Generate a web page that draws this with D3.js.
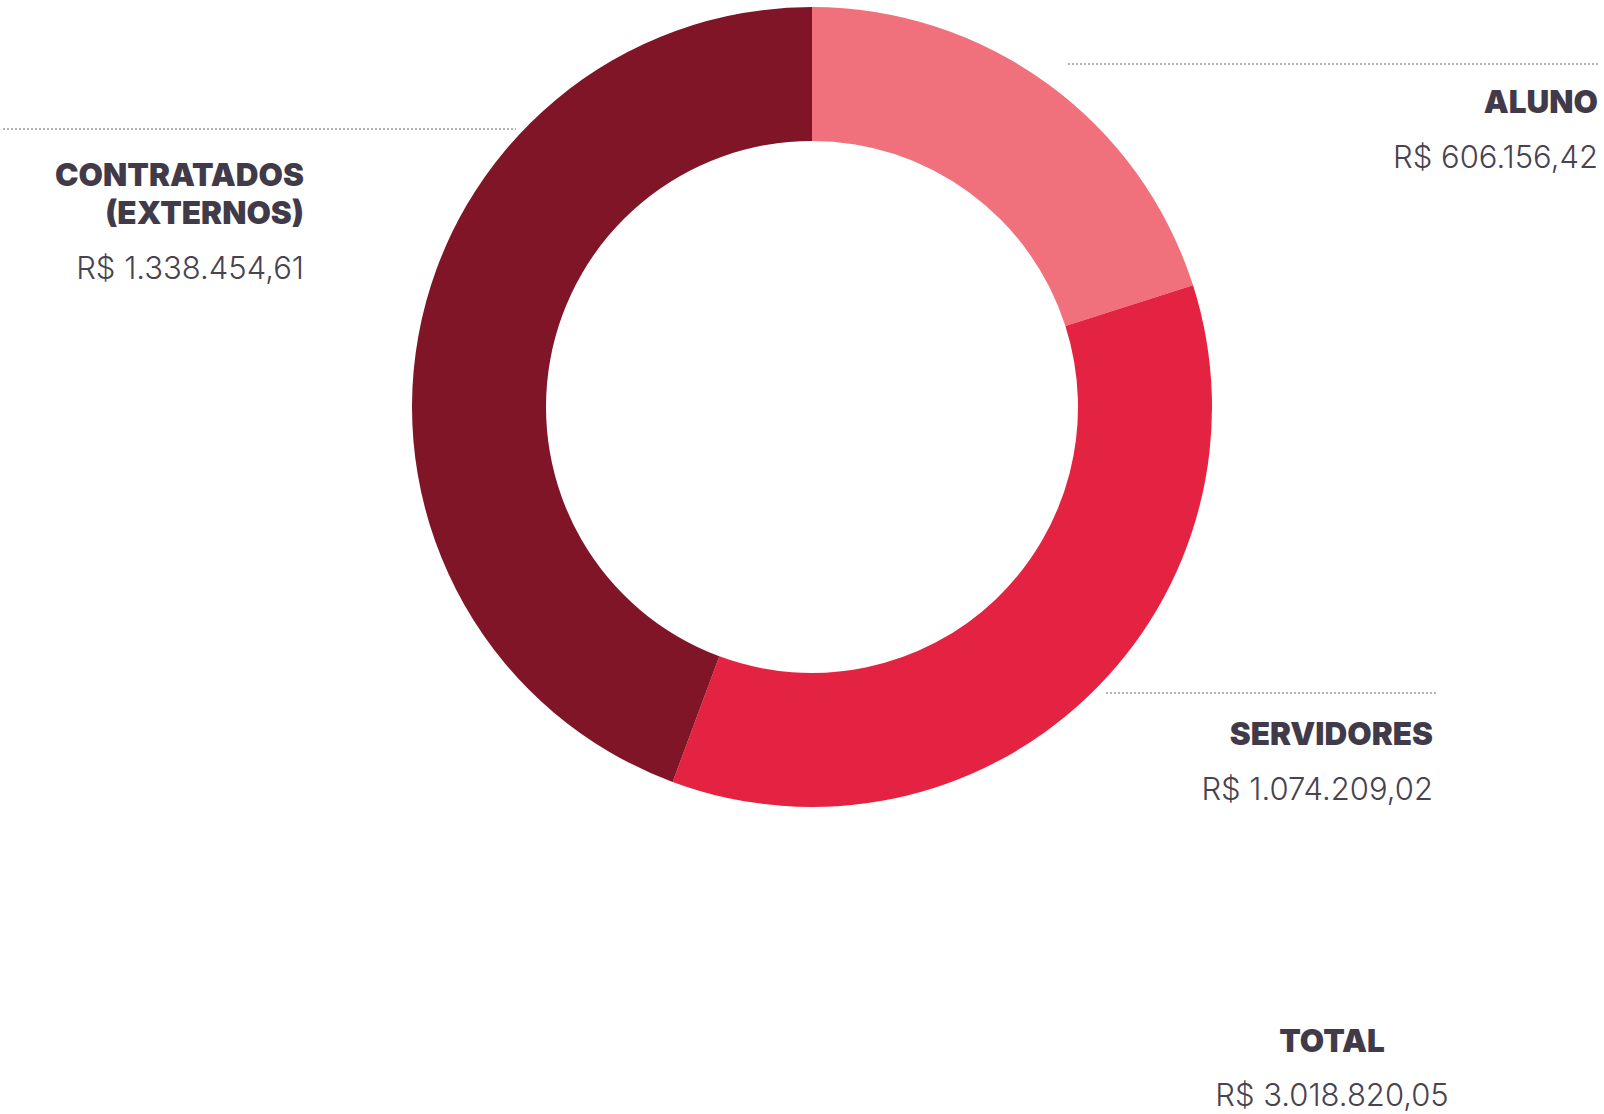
<!DOCTYPE html>
<html>
<head>
<meta charset="utf-8">
<script src="https://cdnjs.cloudflare.com/ajax/libs/d3/7.8.5/d3.min.js"></script>
<style>
  body { margin: 0; background: #fff; }
  .titulo { font-family: Inter, "Open Sans", sans-serif; font-weight: 900; fill: #413b49; }
  .valor { font-family: Inter, "Open Sans", sans-serif; font-weight: 300; fill: #48434f; }
</style>
</head>
<body>
<div class="grafico"></div>
<script>
// dados
var categorias = ["ALUNO", "SERVIDORES", "CONTRATADOS (EXTERNOS)"];
var valores = [606156.42, 1074209.02, 1338454.61];
var cores = ["#f0717b", "#e42241", "#801528"];
var total = 3018820.05;

var width = 1604, height = 1114;
var svg = d3.select(".grafico")
  .append("svg")
  .attr("width", width)
  .attr("height", height);

// rosca
var cx = 812, cy = 407, raio = 400, raioInterno = 266;
var pie = d3.pie().sort(null).value(function(d) { return d; });
var arc = d3.arc().innerRadius(raioInterno).outerRadius(raio);
var cor = d3.scaleOrdinal().domain(categorias).range(cores);

var g = svg.append("g").attr("transform", "translate(" + cx + "," + cy + ")");
g.selectAll("path")
  .data(pie(valores))
  .enter()
  .append("path")
  .attr("d", arc)
  .attr("fill", function(d, i) { return cor(categorias[i]); });

// formato brasileiro
var fmt = d3.formatLocale({ decimal: ",", thousands: ".", grouping: [3], currency: ["R$ ", ""] }).format("$,.2f");

// rótulos: linha pontilhada, titulo e valor
var rotulos = [
  { linha: [1068, 1598, 64], x: 1598, linhas: ["ALUNO"], y: 113, anchor: "end" },
  { linha: [1106, 1436, 693], x: 1433, linhas: ["SERVIDORES"], y: 745, anchor: "end" },
  { linha: [3, 516, 129], x: 304, linhas: ["CONTRATADOS", "(EXTERNOS)"], y: 186, anchor: "end" }
];

rotulos.forEach(function(r, i) {
  svg.append("line")
    .attr("x1", r.linha[0]).attr("x2", r.linha[1])
    .attr("y1", r.linha[2]).attr("y2", r.linha[2])
    .attr("stroke", "#9a9a9a")
    .attr("stroke-width", 1.3)
    .attr("stroke-dasharray", "2,2");
  r.linhas.forEach(function(t, j) {
    svg.append("text")
      .attr("class", "titulo")
      .attr("x", r.x).attr("y", r.y + j * 38)
      .attr("text-anchor", r.anchor)
      .attr("font-size", 31.5)
      .text(t);
  });
  svg.append("text")
    .attr("class", "valor")
    .attr("x", r.x).attr("y", r.y + (r.linhas.length - 1) * 38 + 55)
    .attr("text-anchor", r.anchor)
    .attr("font-size", 31)
    .text(fmt(valores[i]));
});

// total
svg.append("text")
  .attr("class", "titulo")
  .attr("x", 1332).attr("y", 1052)
  .attr("text-anchor", "middle")
  .attr("font-size", 31.5)
  .text("TOTAL");
svg.append("text")
  .attr("class", "valor")
  .attr("x", 1332).attr("y", 1106)
  .attr("text-anchor", "middle")
  .attr("font-size", 31)
  .text(fmt(total));
</script>
</body>
</html>
